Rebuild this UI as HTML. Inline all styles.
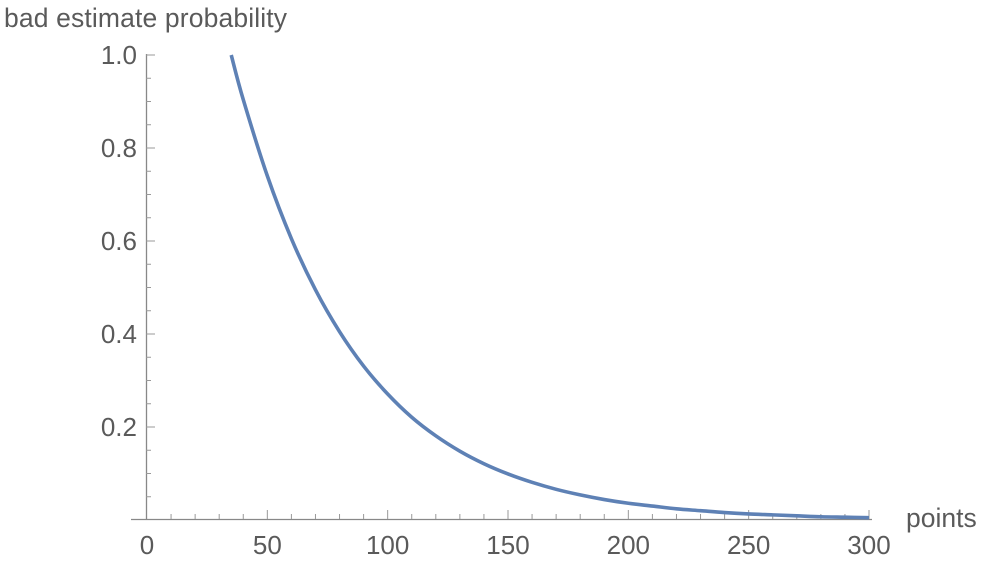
<!DOCTYPE html>
<html><head><meta charset="utf-8"><style>
body{margin:0;background:#fff;}
svg text{font-family:"Liberation Sans",sans-serif;fill:#5a5a5a;}
</style></head><body>
<svg id="chart" width="984" height="558">
<g id="axes"></g>
<path id="curve" fill="none" stroke="#5e81b5" stroke-width="3.6"/>
<text x="4" y="27" font-size="26.5" textLength="283">bad estimate probability</text>
<text x="906" y="527" font-size="26.5">points</text>
</svg>
<script>
const xs=[35,40,50,60,70,80,90,100,110,120,130,140,150,160,170,180,190,200,210,220,230,240,250,260,270,280,290,300];
const ys=[1.0,0.904,0.74,0.605,0.495,0.405,0.331,0.271,0.221,0.181,0.148,0.121,0.099,0.081,0.066,0.054,0.044,0.036,0.030,0.024,0.020,0.016,0.013,0.011,0.009,0.007,0.006,0.005];
const xTicks=[0,50,100,150,200,250,300];
const yTicks=[0.2,0.4,0.6,0.8,1.0];
const X=v=>147+v*722/300, Y=v=>520-v*465;
const NS="http://www.w3.org/2000/svg", g=document.getElementById('axes');
function mk(t,a){const e=document.createElementNS(NS,t);for(const k in a)e.setAttribute(k,a[k]);g.appendChild(e);return e;}
let e=mk('line',{x1:131,y1:519.5,x2:872,y2:519.5,stroke:'#888','stroke-width':1.3});


e=mk('line',{x1:146.5,y1:54,x2:146.5,y2:519.5,stroke:'#888','stroke-width':1.3});


for(let v=10;v<=300;v+=10){const maj=v%50==0;mk('line',{x1:X(v),x2:X(v),y1:519,y2:maj?510:514,stroke:'#999'});}
for(let v=0.05;v<=1.001;v+=0.05){const maj=Math.abs(v*5-Math.round(v*5))<1e-6;mk('line',{x1:146,x2:maj?155:151,y1:Y(v),y2:Y(v),stroke:'#999'});}
xTicks.forEach(v=>{const t=mk('text',{x:X(v),y:554,'font-size':26,'text-anchor':'middle'});t.textContent=v;

});
yTicks.forEach(v=>{const t=mk('text',{x:137,y:Y(v)+9,'font-size':26,'text-anchor':'end'});t.textContent=v.toFixed(1);

});
const P=xs.map((x,i)=>[X(x),Y(ys[i])]);
let d='M'+P[0][0]+','+P[0][1];
for(let i=0;i<P.length-1;i++){const p0=P[Math.max(0,i-1)],p1=P[i],p2=P[i+1],p3=P[Math.min(P.length-1,i+2)];
d+=` C${p1[0]+(p2[0]-p0[0])/6},${p1[1]+(p2[1]-p0[1])/6} ${p2[0]-(p3[0]-p1[0])/6},${p2[1]-(p3[1]-p1[1])/6} ${p2[0]},${p2[1]}`;}
document.getElementById('curve').setAttribute('d',d);
</script>
</body></html>
